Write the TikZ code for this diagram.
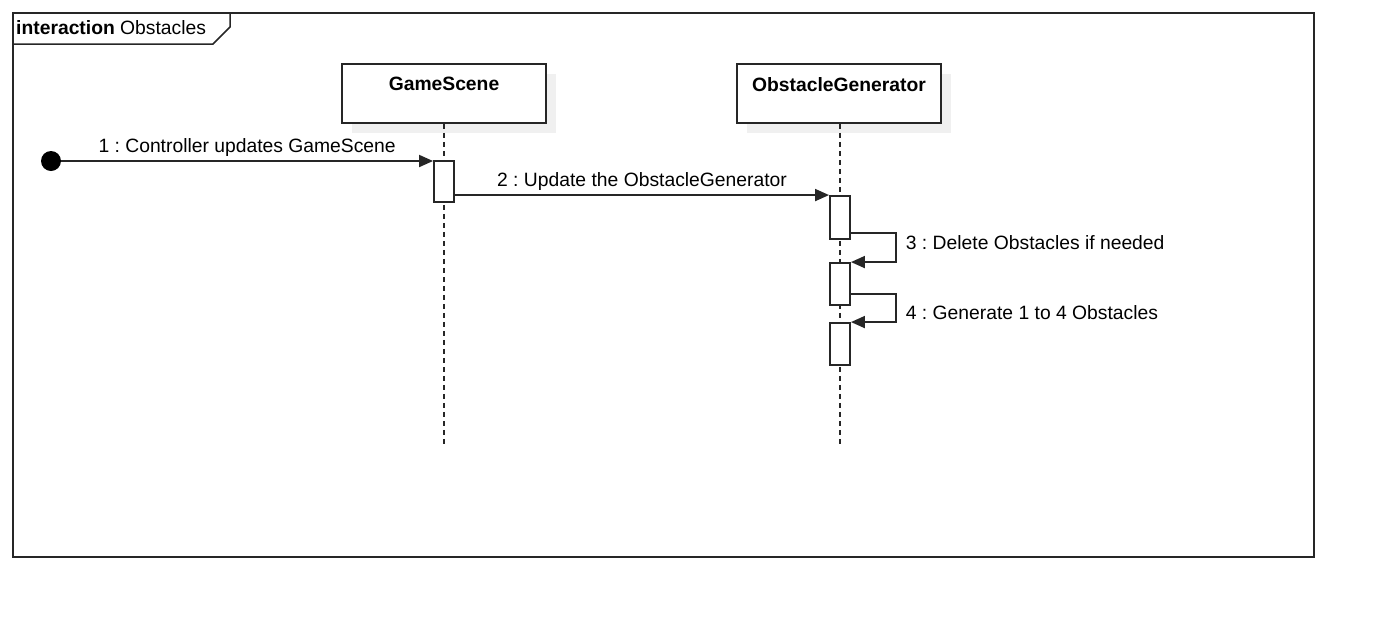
\documentclass[tikz,border=0pt]{standalone}
\usepackage{fontspec}
\setmainfont{Liberation Sans}
\usetikzlibrary{arrows.meta,positioning,shadows,calc}
\frenchspacing
\newcommand{\seqsize}{\fontsize{19.3}{23}\selectfont}
\tikzset{
  seqframe/.style = {draw=black!85, line width=1.5pt},
  seqbox/.style   = {rectangle, draw=black!85, fill=white, line width=1.9pt,
                     minimum width=204pt, minimum height=59pt, inner sep=0pt,
                     drop shadow={shadow xshift=10pt, shadow yshift=-10pt,
                                  fill=black!6, opacity=1}},
  seqname/.style  = {font=\seqsize\bfseries, inner sep=0pt, anchor=north},
  seqlife/.style  = {draw=black!85, line width=1.5pt, dash pattern=on 5pt off 4pt},
  seqact/.style   = {rectangle, draw=black!85, fill=white, line width=1.9pt,
                     minimum width=20pt, inner sep=0pt},
  seqstart/.style = {circle, fill=black, minimum size=20pt, inner sep=0pt},
  seqmsg/.style   = {-{Triangle[length=14pt,width=12pt]}, draw=black!85, line width=1.9pt},
  seqlbl/.style   = {font=\seqsize, inner sep=3pt},
}
\begin{document}
\begin{tikzpicture}[x=1pt, y=-1pt, font=\seqsize]
  \useasboundingbox (0,0) rectangle (1375,619);

  % frame and its tab
  \node[seqframe, rectangle, minimum width=1301pt, minimum height=544pt,
        inner sep=0pt, anchor=north west] (frame) at (12,12) {};
  \node[anchor=west, inner sep=0pt] (tabtxt) at (16,28) {\textbf{interaction} Obstacles};
  \draw[seqframe] (12,44) -- (213,44) -- (230,27) -- (230,12);

  % lifelines
  \node[seqbox] (gs) at (444,93.5) {};
  \node[seqname] (gsname) at ($(gs.north)+(0,14)$) {GameScene};
  \node[seqbox] (og) at (839,93.5) {};
  \node[seqname] (ogname) at ($(og.north)+(0,14)$) {ObstacleGenerator};
  \coordinate (gsend) at (444,445);
  \coordinate (ogend) at (840,445);
  \draw[seqlife] (gs.south) -- (gsend);
  \draw[seqlife] (og.south -| ogend) -- (ogend);

  % activations
  \node[seqact, minimum height=41pt] (gsact1) at (444,181.5) {};
  \node[seqact, minimum height=43pt] (ogact1) at (840,217.5) {};
  \node[seqact, minimum height=42pt] (ogact2) at (840,284) {};
  \node[seqact, minimum height=42pt] (ogact3) at (840,344) {};

  \node[seqstart] (start) at (51,161) {};

  % messages
  \draw[seqmsg] (start) -- node[seqlbl, above=1pt]{1 : Controller updates GameScene} (start -| gsact1.west);
  \draw[seqmsg] (gsact1.east |- ogact1.north) -- node[seqlbl, above=1pt]{2 : Update the ObstacleGenerator} (ogact1.north west);
  \draw[seqmsg] ([yshift=7pt]ogact1.south east) -- ++(45,0)
        |- node[seqlbl, pos=0.16, right=6pt]{3 : Delete Obstacles if needed} (ogact2.north east);
  \draw[seqmsg] ([yshift=12pt]ogact2.south east) -- ++(45,0)
        |- node[seqlbl, pos=0.33, right=6pt]{4 : Generate 1 to 4 Obstacles} (ogact3.north east);
\end{tikzpicture}
\end{document}
